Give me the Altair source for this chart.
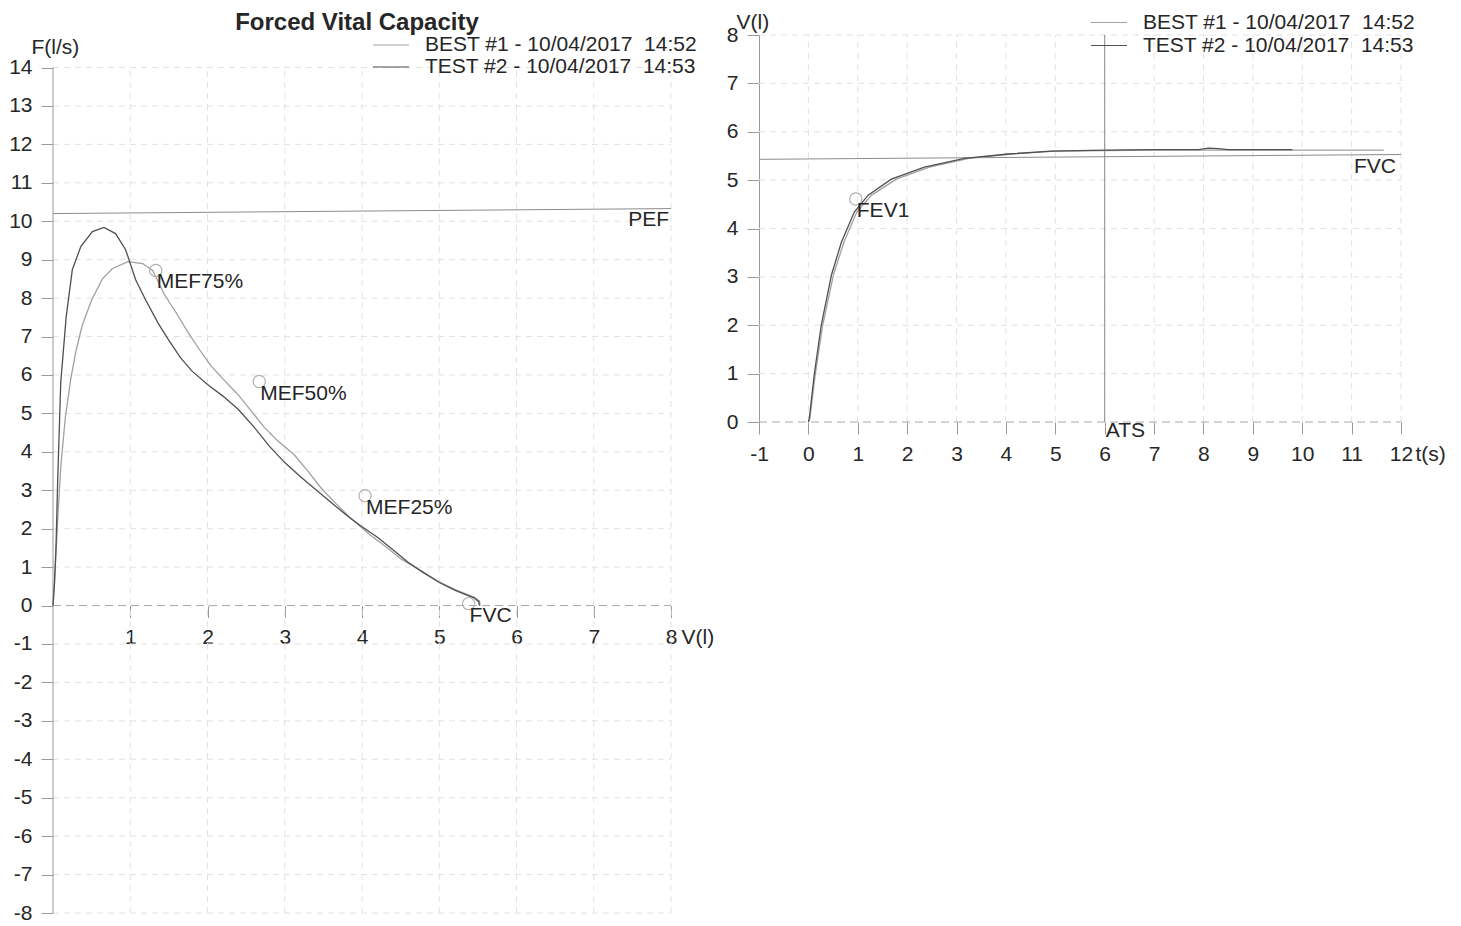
import altair as alt
import pandas as pd

FONT = "Liberation Sans"
TXT = "#262626"
AX = "#9a9a9a"
GRID = "#e2e2e2"
ZERO = "#a8a8a8"

# ---------------- data ----------------
series_names = ["BEST #1 - 10/04/2017\u00a0 14:52", "TEST #2 - 10/04/2017\u00a0 14:53"]
series_colors = ["#a0a0a0", "#505050"]

# Flow-volume curves (V in l, F in l/s)
fv_test_v = [0.00, 0.02, 0.04, 0.06, 0.10, 0.17, 0.25, 0.36, 0.51, 0.66, 0.81, 0.94, 1.07, 1.20, 1.36,
             1.50, 1.65, 1.80, 2.00, 2.20, 2.40, 2.60, 2.80, 3.00, 3.20, 3.40, 3.60, 3.80, 4.00, 4.20,
             4.40, 4.60, 4.80, 5.00, 5.20, 5.35, 5.45, 5.51, 5.52]
fv_test_f = [0.00, 0.60, 1.60, 3.20, 5.80, 7.50, 8.74, 9.34, 9.73, 9.84, 9.68, 9.26, 8.48, 7.95, 7.35,
             6.90, 6.45, 6.10, 5.75, 5.45, 5.10, 4.65, 4.15, 3.72, 3.36, 3.02, 2.68, 2.35, 2.05, 1.78,
             1.45, 1.12, 0.85, 0.60, 0.40, 0.28, 0.20, 0.10, 0.00]
fv_best_v = [0.00, 0.03, 0.06, 0.10, 0.16, 0.23, 0.30, 0.38, 0.50, 0.64, 0.77, 0.97, 1.16, 1.29, 1.44,
             1.60, 1.75, 1.90, 2.04, 2.20, 2.39, 2.56, 2.73, 2.90, 3.12, 3.30, 3.47, 3.66, 3.86, 4.10,
             4.33, 4.50, 4.70, 4.85, 5.00, 5.20, 5.35, 5.45, 5.52, 5.53]
fv_best_f = [0.00, 1.00, 2.20, 3.60, 4.90, 5.90, 6.65, 7.30, 7.95, 8.50, 8.77, 8.95, 8.90, 8.72, 8.10,
             7.60, 7.10, 6.65, 6.25, 5.90, 5.50, 5.08, 4.65, 4.30, 3.93, 3.50, 3.06, 2.66, 2.26, 1.85,
             1.50, 1.22, 0.98, 0.80, 0.62, 0.42, 0.30, 0.22, 0.12, 0.00]

mef_labels = ["MEF75%", "MEF50%", "MEF25%", "FVC"]
mef_v = [1.33, 2.67, 4.04, 5.38]
mef_f = [8.72, 5.83, 2.86, 0.05]

pef_v = [0.0, 8.0]
pef_f = [10.20, 10.33]

# Volume-time curves (t in s, V in l)
vt_test_t = [0.00, 0.02, 0.12, 0.26, 0.47, 0.67, 0.93, 1.21, 1.68, 2.35, 3.16, 4.05, 4.92, 6.00, 7.00,
             7.90, 8.10, 8.30, 8.50, 9.00, 9.80]
vt_test_v = [0.00, 0.08, 0.99, 2.00, 3.05, 3.72, 4.34, 4.69, 5.02, 5.27, 5.45, 5.54, 5.60, 5.62, 5.63,
             5.63, 5.66, 5.65, 5.63, 5.63, 5.63]
vt_best_t = [0.00, 0.03, 0.14, 0.29, 0.51, 0.72, 0.98, 1.28, 1.78, 2.45, 3.25, 4.10, 5.00, 6.00, 7.00,
             8.00, 9.00, 10.00, 11.00, 11.65]
vt_best_v = [0.00, 0.08, 0.99, 2.00, 3.05, 3.72, 4.34, 4.69, 5.02, 5.27, 5.45, 5.54, 5.60, 5.61, 5.62,
             5.62, 5.62, 5.62, 5.62, 5.62]

fev1_t = [0.96]
fev1_v = [4.61]
fvc_pred_t = [-1.0, 12.0]
fvc_pred_v = [5.43, 5.53]
ats_t = [6.0]

left_v_ticks = [1, 2, 3, 4, 5, 6, 7, 8]
left_f_ticks = list(range(-8, 15))
right_t_ticks = list(range(-1, 13))
right_v_ticks = list(range(0, 9))

# ---------------- tables ----------------
df_fv = pd.concat([
    pd.DataFrame({"v": fv_best_v, "f": fv_best_f, "series": series_names[0], "i": range(len(fv_best_v))}),
    pd.DataFrame({"v": fv_test_v, "f": fv_test_f, "series": series_names[1], "i": range(len(fv_test_v))}),
])
df_vt = pd.concat([
    pd.DataFrame({"t": vt_best_t, "vol": vt_best_v, "series": series_names[0], "i": range(len(vt_best_t))}),
    pd.DataFrame({"t": vt_test_t, "vol": vt_test_v, "series": series_names[1], "i": range(len(vt_test_t))}),
])
df_mef = pd.DataFrame({"v": mef_v, "f": mef_f, "label": mef_labels})
df_pef = pd.DataFrame({"v": pef_v, "f": pef_f})
df_pef_lab = pd.DataFrame({"v": [pef_v[-1]], "f": [pef_f[-1]], "label": ["PEF"]})
df_fev1 = pd.DataFrame({"t": fev1_t, "vol": fev1_v, "label": ["FEV1"]})
df_fvcp = pd.DataFrame({"t": fvc_pred_t, "vol": fvc_pred_v})
df_fvcp_lab = pd.DataFrame({"t": [fvc_pred_t[-1]], "vol": [fvc_pred_v[-1]], "label": ["FVC"]})
df_ats = pd.DataFrame({"t": ats_t, "vol": [0.0], "label": ["ATS"]})
df_lv = pd.DataFrame({"v": left_v_ticks})
df_lf = pd.DataFrame({"f": [x for x in left_f_ticks if x != 0]})
df_rt = pd.DataFrame({"t": [x for x in right_t_ticks if x >= 0]})
df_rv = pd.DataFrame({"vol": [x for x in right_v_ticks if x > 0]})
one = pd.DataFrame({"k": [0]})

# ---------------- geometry ----------------
WL, HL = 618, 878
PX_L = 38.43
L_TOP = HL / PX_L - 8
WR, HR = 642, 387

lab_expr = "'' + datum.value"
txt_common = dict(font=FONT, fontSize=21, color=TXT)

def make_axis(values, title, tx, ty, align="left", baseline="middle", **kw):
    return alt.Axis(values=values, tickCount=len(values), grid=False, tickSize=12, tickColor=AX,
                    tickWidth=1, labelFont=FONT, labelFontSize=21, labelColor=TXT, labelPadding=9,
                    labelExpr=lab_expr, labelFlush=False, labelOverlap=False, labelSeparation=0,
                    title=title, titleFont=FONT, titleFontSize=21, titleFontWeight="normal",
                    titleColor=TXT, titleAngle=0, titleX=tx, titleY=ty,
                    titleAlign=align, titleBaseline=baseline, titleLimit=300, **kw)

xL = alt.Scale(domain=[0, 8], nice=False, zero=False)
yL = alt.Scale(domain=[-8, L_TOP], nice=False, zero=False)
axXL = make_axis(left_v_ticks, "V(l)", 628, 21, baseline="top", domain=False, offset=-8 * PX_L)
axYL = make_axis(left_f_ticks, "F(l/s)", -22, 12, domain=False)

xR = alt.Scale(domain=[-1, 12], nice=False, zero=False)
yR = alt.Scale(domain=[0, 8], nice=False, zero=False)
axXR = make_axis(right_t_ticks, "t(s)", 656, 21, baseline="top", domain=False)
axYR = make_axis(right_v_ticks, "V(l)", -23, -12.5, domain=True, domainColor=AX, domainWidth=1)

color_scale = alt.Scale(domain=series_names, range=series_colors)

XL = lambda: alt.X("v:Q", scale=xL, axis=axXL)
YL = lambda: alt.Y("f:Q", scale=yL, axis=axYL)
XR = lambda: alt.X("t:Q", scale=xR, axis=axXR)
YR = lambda: alt.Y("vol:Q", scale=yR, axis=axYR)
XLd = lambda d: alt.XDatum(d, scale=xL, axis=axXL)
YLd = lambda d: alt.YDatum(d, scale=yL, axis=axYL)
XRd = lambda d: alt.XDatum(d, scale=xR, axis=axXR)
YRd = lambda d: alt.YDatum(d, scale=yR, axis=axYR)


def legend_layers(x0, y0, gap):
    """Line key + label for each series, stacked from the top-left corner (x0, y0)."""
    layers = []
    for k, name in enumerate(series_names):
        row = pd.DataFrame({"series": [name]})
        yy = y0 + gap * k
        layers.append(alt.Chart(row).mark_rule(strokeWidth=1.2).encode(
            x=alt.value(x0), x2=alt.value(x0 + 36), y=alt.value(yy),
            color=alt.Color("series:N", scale=color_scale, legend=None)))
        layers.append(alt.Chart(row).mark_text(align="left", baseline="middle", **txt_common).encode(
            x=alt.value(x0 + 52), y=alt.value(yy), text="series:N"))
    return layers


# ---------------- left panel ----------------
left = alt.layer(
    alt.Chart(df_lv).mark_rule(color=GRID, strokeDash=[6, 5], strokeWidth=1).encode(
        x=XL(), y=YLd(-8), y2=alt.datum(14)),
    alt.Chart(df_lf).mark_rule(color=GRID, strokeDash=[6, 5], strokeWidth=1).encode(
        y=YL(), x=XLd(0), x2=alt.datum(8)),
    alt.Chart(one).mark_rule(color=ZERO, strokeDash=[8, 5], strokeWidth=1).encode(
        y=YLd(0), x=XLd(0), x2=alt.datum(8)),
    alt.Chart(one).mark_rule(color=AX, strokeWidth=1).encode(
        x=XLd(0), y=YLd(-8), y2=alt.datum(14)),
    alt.Chart(df_pef).mark_line(color="#8c8c8c", strokeWidth=1).encode(x=XL(), y=YL()),
    alt.Chart(df_fv).mark_line(strokeWidth=1.3).encode(
        x=XL(), y=YL(), color=alt.Color("series:N", scale=color_scale, legend=None), order="i:Q"),
    alt.Chart(df_mef).mark_point(shape="circle", size=150, filled=False, color="#b0b0b0",
                                 strokeWidth=1.2, opacity=1).encode(x=XL(), y=YL()),
    alt.Chart(df_mef).mark_text(align="left", baseline="middle", dx=1, dy=12, **txt_common).encode(
        x=XL(), y=YL(), text="label:N"),
    alt.Chart(df_pef_lab).mark_text(align="right", baseline="middle", dx=-2, dy=11, **txt_common).encode(
        x=XL(), y=YL(), text="label:N"),
    *legend_layers(320, 10, 22),
).properties(
    width=WL, height=HL,
    title=alt.TitleParams(text="Forced Vital Capacity", font=FONT, fontSize=24, fontWeight="bold",
                          color=TXT, anchor="middle", offset=-1, dx=-5),
)

# ---------------- right panel ----------------
right = alt.layer(
    alt.Chart(df_rt).mark_rule(color=GRID, strokeDash=[6, 5], strokeWidth=1).encode(
        x=XR(), y=YRd(0), y2=alt.datum(8)),
    alt.Chart(df_rv).mark_rule(color=GRID, strokeDash=[6, 5], strokeWidth=1).encode(
        y=YR(), x=XRd(-1), x2=alt.datum(12)),
    alt.Chart(one).mark_rule(color=ZERO, strokeDash=[8, 5], strokeWidth=1).encode(
        y=YRd(0), x=XRd(-1), x2=alt.datum(12)),
    alt.Chart(df_ats).mark_rule(color="#8c8c8c", strokeWidth=1).encode(
        x=XR(), y=YRd(0), y2=alt.datum(8)),
    alt.Chart(df_fvcp).mark_line(color="#8c8c8c", strokeWidth=1).encode(x=XR(), y=YR()),
    alt.Chart(df_vt).mark_line(strokeWidth=1.3).encode(
        x=XR(), y=YR(), color=alt.Color("series:N", scale=color_scale, legend=None), order="i:Q"),
    alt.Chart(df_fev1).mark_point(shape="circle", size=150, filled=False, color="#b0b0b0",
                                  strokeWidth=1.2, opacity=1).encode(x=XR(), y=YR()),
    alt.Chart(df_fev1).mark_text(align="left", baseline="middle", dx=1, dy=12, **txt_common).encode(
        x=XR(), y=YR(), text="label:N"),
    alt.Chart(df_fvcp_lab).mark_text(align="right", baseline="middle", dx=-5, dy=13, **txt_common).encode(
        x=XR(), y=YR(), text="label:N"),
    alt.Chart(df_ats).mark_text(align="left", baseline="middle", dx=1, dy=9, **txt_common).encode(
        x=XR(), y=YR(), text="label:N"),
    *legend_layers(332, -12.5, 23),
).properties(width=WR, height=HR)

chart = alt.hconcat(left, right, spacing=88, bounds="flush").properties(
    padding={"left": 0, "top": 3, "right": 0, "bottom": 0}, background="white"
).configure_view(stroke=None)

chart.save("out.html", embed_options={"renderer": "svg", "actions": False})
